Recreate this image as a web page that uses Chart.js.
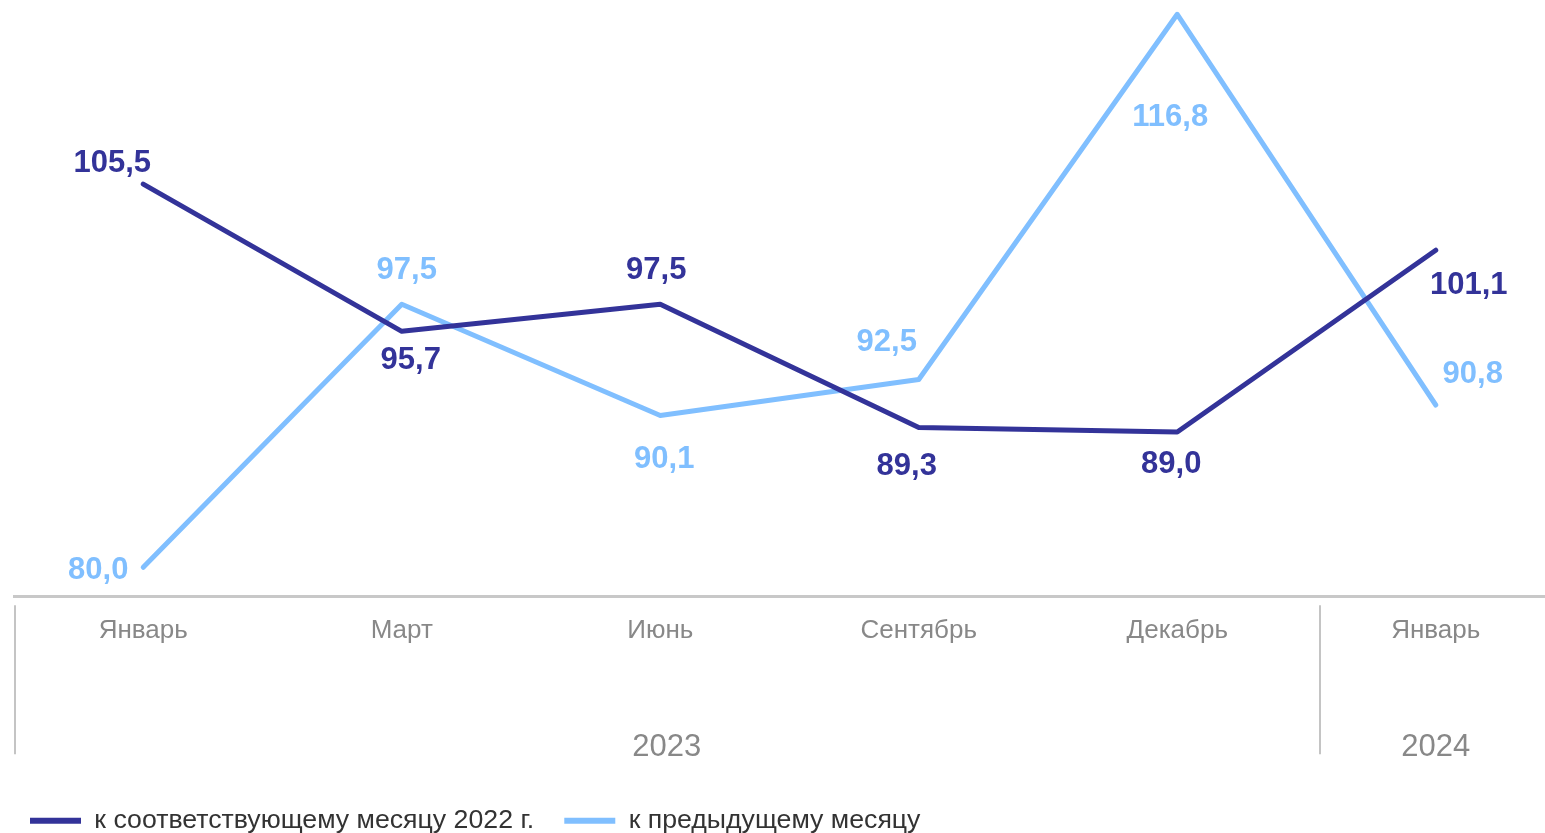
<!DOCTYPE html>
<html>
<head>
<meta charset="utf-8">
<script src="https://cdn.jsdelivr.net/npm/chart.js@4.4.1/dist/chart.umd.min.js"></script>
<style>
  html, body { margin: 0; padding: 0; overflow: hidden; background: #fff; }
  #wrap { width: 1565px; height: 833px; position: relative; }
</style>
</head>
<body>
<div id="wrap"><canvas id="priceChart"></canvas></div>
<script>
var months = ["Январь", "Март", "Июнь", "Сентябрь", "Декабрь", "Январь"];
var years = ["2023", "2024"];
var yearCenters = [2.025, 5];      // category index the year label sits under
var yearSeparators = [-0.5, 4.55]; // category index of the vertical dividers
var seriesNames = ["к соответствующему месяцу 2022 г.", "к предыдущему месяцу"];
var toSameMonth = [105.5, 95.7, 97.5, 89.3, 89.0, 101.1];
var toPrevMonth = [80.0, 97.5, 90.1, 92.5, 116.8, 90.8];

var darkBlue = "#333399";
var lightBlue = "#80bfff";
var fontName = "'Liberation Sans', Arial, sans-serif";

function fmt(v) {
    return v.toFixed(1).replace(".", ",");
}

// value labels next to each point
var pointLabels = {
    id: "pointLabels",
    afterDatasetsDraw: function(chart) {
        var ctx = chart.ctx;
        ctx.save();
        ctx.font = "bold 31px " + fontName;
        ctx.textAlign = "center";
        ctx.textBaseline = "middle";
        chart.data.datasets.forEach(function(ds, i) {
            var meta = chart.getDatasetMeta(i);
            ctx.fillStyle = ds.borderColor;
            meta.data.forEach(function(pt, j) {
                var off = ds.labelOffsets[j];
                ctx.fillText(fmt(ds.data[j]), pt.x + off[0], pt.y + off[1] + 2.5);
            });
        });
        ctx.restore();
    }
};

// year row with dividers under the month ticks
var yearGroups = {
    id: "yearGroups",
    afterDraw: function(chart) {
        var ctx = chart.ctx;
        var x = chart.scales.x;
        var bottom = chart.chartArea.bottom;
        ctx.save();
        ctx.strokeStyle = "#c4c4c4";
        ctx.lineWidth = 2;
        yearSeparators.forEach(function(s) {
            var px = Math.round(x.getPixelForValue(s)) + 1;
            ctx.beginPath();
            ctx.moveTo(px, bottom + 9);
            ctx.lineTo(px, bottom + 158);
            ctx.stroke();
        });
        ctx.fillStyle = "#888888";
        ctx.font = "31px " + fontName;
        ctx.textAlign = "center";
        ctx.textBaseline = "middle";
        years.forEach(function(y, i) {
            ctx.fillText(y, x.getPixelForValue(yearCenters[i]), bottom + 151);
        });
        ctx.restore();
    }
};

var data = {
    labels: months,
    datasets: [
        {
            label: seriesNames[0],
            data: toSameMonth,
            borderColor: darkBlue,
            backgroundColor: darkBlue,
            labelOffsets: [[-31, -23], [9, 27], [-4, -36], [-12, 36], [-6, 30], [33, 33]]
        },
        {
            label: seriesNames[1],
            data: toPrevMonth,
            borderColor: lightBlue,
            backgroundColor: lightBlue,
            labelOffsets: [[-45, 1], [5, -36], [4, 41], [-32, -39], [-7, 101], [37, -33]]
        }
    ]
};

var option = {
    responsive: true,
    maintainAspectRatio: false,
    animation: false,
    layout: { padding: { left: 0, right: 0, top: 0, bottom: -11 } },
    elements: {
        line: { borderWidth: 5, tension: 0, borderCapStyle: "round", borderJoinStyle: "round", fill: false },
        point: { radius: 0, hoverRadius: 0 }
    },
    scales: {
        x: {
            type: "category",
            offset: true,
            grid: { display: false, drawTicks: false },
            border: { display: true, color: "#c8c8c8", width: 3 },
            ticks: { color: "#888888", font: { family: fontName, size: 26 }, padding: 19, maxRotation: 0 },
            afterFit: function(scale) { scale.height = 181; }
        },
        y: {
            min: 78.07,
            max: 117.75,
            grid: { display: false, drawTicks: false },
            border: { display: false },
            ticks: { display: false },
            afterFit: function(scale) { scale.width = 14; }
        }
    },
    plugins: {
        tooltip: { enabled: false },
        legend: {
            position: "bottom",
            align: "start",
            labels: {
                color: "#333333",
                font: { family: fontName, size: 26.7 },
                boxWidth: 51,
                boxHeight: 6,
                padding: 30,
                generateLabels: function(chart) {
                    return chart.data.datasets.map(function(ds, i) {
                        return {
                            text: ds.label,
                            fillStyle: ds.borderColor,
                            strokeStyle: ds.borderColor,
                            lineWidth: 0,
                            fontColor: "#333333",
                            datasetIndex: i
                        };
                    });
                }
            }
        }
    }
};

var myLineChart = new Chart(document.getElementById("priceChart"), {
    type: "line",
    data: data,
    options: option,
    plugins: [pointLabels, yearGroups]
});
</script>
</body>
</html>
